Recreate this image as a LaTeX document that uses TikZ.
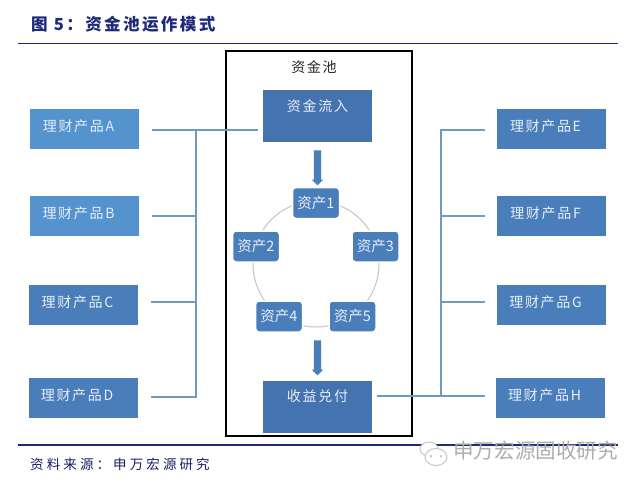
\documentclass[tikz,border=0pt]{standalone}
\usepackage{fontspec}
\setmainfont{Liberation Sans}
\newfontfamily\cjk{Noto Sans CJK SC}
\newfontfamily\cjkwide[LetterSpace=12]{Noto Sans CJK SC}
\newfontfamily\cjkbold[LetterSpace=14]{Noto Sans CJK SC}
\newfontfamily\cjksrc[LetterSpace=23]{Noto Sans CJK SC}
\usetikzlibrary{shapes.arrows,calc}
\definecolor{boxblue}{HTML}{4A7EBB}
\definecolor{boxlight}{HTML}{5593CE}
\definecolor{boxdark}{HTML}{4573B0}
\definecolor{linkblue}{HTML}{6F9BC0}
\definecolor{navy}{HTML}{1F2A78}
\definecolor{ringgray}{HTML}{C4C4C4}
\definecolor{softwhite}{HTML}{E6EEF8}
\tikzset{
 prod/.style={fill=boxblue,minimum width=109pt,minimum height=40pt,inner sep=0pt,text=softwhite,font=\cjkwide\fontsize{14}{14}\selectfont},
 flow/.style={fill=boxdark,minimum width=109pt,minimum height=52pt,inner sep=0pt,text=softwhite,font=\cjkwide\fontsize{14}{14}\selectfont},
 asset/.style={fill=boxblue,draw=white,line width=1.5pt,rounded corners=3.5pt,minimum width=47pt,minimum height=31pt,inner sep=0pt,text=softwhite,font=\cjk\fontsize{14.5}{14.5}\selectfont},
 link/.style={draw=linkblue,line width=1.2pt},
 downarrow/.style={single arrow,fill=boxblue,rotate=-90,minimum height=35pt,single arrow head extend=2pt,single arrow head indent=0pt,inner sep=0pt},
 rule/.style={draw=navy,line width=1.7pt}
}
\newcommand{\prodtext}[1]{\raisebox{7pt}{\hspace*{-6pt}#1\hspace*{6pt}}}
\begin{document}
\begin{tikzpicture}[x=1pt,y=-1pt]
\useasboundingbox (0,0) rectangle (640,483);
\fill[white] (0,0) rectangle (640,483);
% title and rules
\node[anchor=west,inner sep=0pt,text=navy,font=\cjkbold\bfseries\fontsize{16.6}{17}\selectfont] (title) at (31,24) {图 5：资金池运作模式};
\coordinate (r1a) at (18,43.5); \coordinate (r1b) at (618,43.5);
\coordinate (r2a) at (18,445); \coordinate (r2b) at (618,445);
\draw[rule] (r1a) -- (r1b);
\draw[rule] (r2a) -- (r2b);
\node[anchor=west,inner sep=0pt,text=navy!75!black,font=\cjksrc\fontsize{13.5}{14}\selectfont] (src) at (30,464) {资料来源：申万宏源研究};
% watermark
\node[anchor=west,inner sep=0pt,text=black!32,font=\cjk\fontsize{20.6}{21}\selectfont] (mark) at (453,451) {申万宏源固收研究};
\draw[black!22,line width=1pt,fill=white] (429,449) ellipse (9pt and 7pt);
\draw[black!22,line width=1pt,fill=white] (436,457) ellipse (11pt and 8.5pt);
\fill[black!35] (431,456) circle (1pt) (441,456) circle (1pt);
% pool
\node[draw=black,line width=2.4pt,minimum width=186pt,minimum height=385pt,inner sep=0pt] (pool) at (319,243.5) {};
\node[inner sep=0pt,font=\cjkwide\fontsize{14}{14}\selectfont,text=black!85] (pooltext) at (314,67) {资金池};
% products
\node[prod,fill=boxlight] (A) at (84.5,129) {\prodtext{理财产品A}};
\node[prod,fill=boxlight] (B) at (84.5,216) {\prodtext{理财产品B}};
\node[prod] (C) at (83.5,305) {\prodtext{理财产品C}};
\node[prod] (D) at (83,398) {\prodtext{理财产品D}};
\node[prod] (E) at (551.5,129) {\prodtext{理财产品E}};
\node[prod] (F) at (551.5,216) {\prodtext{理财产品F}};
\node[prod] (G) at (551.5,305) {\prodtext{理财产品G}};
\node[prod] (H) at (550.5,398) {\prodtext{理财产品H}};
% flows
\node[flow] (in) at (317.5,116) {\raisebox{21pt}{资金流入}};
\node[flow] (out) at (317.5,406.5) {\raisebox{21pt}{收益兑付}};
% ring and assets
\node[draw=ringgray,line width=1pt,circle,minimum size=126pt,inner sep=0pt] (ring) at (316,264) {};
\node[asset] (a1) at (316,203) {资产1};
\node[asset] (a2) at (256,246.5) {资产2};
\node[asset] (a3) at (375.5,246.5) {资产3};
\node[asset] (a4) at (279,316.5) {资产4};
\node[asset] (a5) at (352.5,316.5) {资产5};
% block arrows
\node[downarrow] (ar1) at (317.5,166) {\rule{0pt}{7pt}};
\node[downarrow] (ar2) at (317.5,356) {\rule{0pt}{7pt}};
% connectors
\coordinate (busL) at (196,130);
\coordinate (busR) at (441,130);
\draw[link] ($(A.east)+(13,1)$) -- ($(in.west)+(-5,14)$);
\draw[link] (busL) -- (196,397) -- ($(D.east)+(13,-1)$);
\draw[link] ($(B.east)+(13,0)$) -- (196,216);
\draw[link] ($(C.east)+(13,-3)$) -- (196,302);
\draw[link] (485,130) -- (busR) -- (441,396);
\draw[link] ($(F.west)+(-12,0)$) -- (441,216);
\draw[link] ($(G.west)+(-12,-3)$) -- (441,302);
\draw[link] ($(out.east)+(5,-10.5)$) -- ($(H.west)+(-11,-2)$);
\end{tikzpicture}
\end{document}
